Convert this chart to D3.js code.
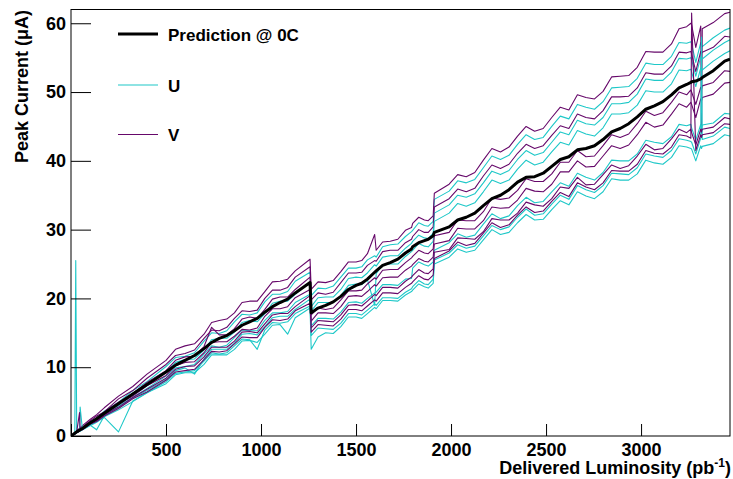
<!DOCTYPE html>
<html><head><meta charset="utf-8">
<script src="https://cdn.jsdelivr.net/npm/d3@7"></script>
<style>
body{margin:0;background:#fff}
text{font-family:"Liberation Sans",Arial,Helvetica,sans-serif;font-weight:bold;fill:#000}
</style>
</head><body>
<svg id="chart" width="733" height="479"></svg>
<script>
// ---- data ----
const lumi = [0,20,25,30,45,48,60,100,135,175,250,325,400,500,550,600,650,700,740,780,820,860,900,940,980,1020,1060,1100,1140,1180,1258,
  1264,1300,1340,1380,1420,1460,1500,1530,1560,1598,1606,1640,1680,1720,1760,1792,1798,1830,1860,1880,1906,
  1912,1990,2035,2080,2125,2170,2215,2260,2305,2350,2395,2440,2485,2530,2575,2620,2665,2710,2755,2800,2845,2890,2935,2980,3025,3070,3115,3160,3200,3240,3262,3266,3288,3314,3318,3322,3380,3440,3468];

const prediction = [0,0.4,0.5,0.6,0.85,0.9,1.1,1.9,2.5,3.3,4.7,6.1,7.5,9.3,10.3,11.0,11.7,12.7,13.6,14.2,14.6,15.3,16.1,16.6,17.1,18.0,18.8,19.4,19.9,20.8,22.3,
  17.9,18.6,19.0,19.5,20.3,21.3,21.9,22.2,22.8,23.8,24.0,24.8,25.2,25.7,26.6,27.2,27.5,28.1,28.4,28.6,29.1,
  29.6,30.4,31.4,31.8,32.4,33.5,34.5,35.0,35.8,36.9,37.6,37.7,38.2,39.2,40.2,40.6,41.6,41.8,42.2,43.1,44.2,44.7,45.4,46.4,47.5,48.0,48.6,49.6,50.6,51.1,51.4,51.5,51.6,51.9,52.0,52.1,53.1,54.5,54.8];

const U1 = [0,0.4,0.5,0.6,0.9,1.0,1.1,2.1,2.6,3.6,4.9,6.6,7.9,10.1,11.4,11.6,12.1,13.8,15.0,14.9,15.3,16.6,17.7,17.6,17.9,19.5,20.6,20.6,21.0,22.5,23.8,
  20.4,21.5,21.4,21.8,23.1,24.4,24.4,24.6,25.6,26.2,26.0,27.5,27.8,27.9,29.0,29.7,29.9,31.0,30.6,30.5,31.2,
  34.4,35.6,37.1,36.8,37.3,39.0,40.7,40.2,40.8,42.4,43.8,43.1,43.4,45.0,46.5,46.1,48.2,47.8,47.5,48.6,50.6,50.7,50.8,52.0,54.2,54.0,54.0,55.2,57.2,57.1,57.3,57.0,54.3,57.2,56.8,56.6,57.9,59.0,59.3];
const U2 = [0,0.4,25.5,0.7,0.8,0.9,1.2,1.8,2.6,3.2,4.8,6.0,7.6,9.2,10.7,11.1,11.2,12.5,14.0,14.2,14.2,15.1,16.5,16.8,16.6,17.8,19.3,19.6,19.6,20.6,22.4,
  18.8,20.1,20.2,20.2,21.3,22.9,23.1,23.0,23.7,24.9,24.7,26.0,26.2,26.2,27.3,28.0,28.3,29.2,28.8,28.7,29.5,
  32.4,33.6,35.0,34.7,35.2,36.8,38.5,38.0,38.6,40.2,41.5,40.8,41.2,42.7,44.2,43.8,45.9,45.4,45.2,46.3,48.3,48.3,48.5,49.7,51.9,51.7,51.7,52.9,54.9,54.8,55.0,54.7,52.3,55.1,54.9,54.8,56.1,57.2,57.6];
const U3 = [0,0.4,0.5,0.6,0.8,4.2,1.0,1.7,2.4,3.0,4.4,5.6,6.9,8.7,9.9,10.1,10.4,11.9,13.1,12.9,13.2,14.3,15.4,15.3,15.3,16.8,17.9,17.9,18.1,19.4,20.6,
  18.2,19.4,19.4,19.4,20.4,21.9,22.1,22.0,22.7,19.0,23.6,24.9,25.0,25.0,26.1,26.8,27.0,28.0,27.6,27.5,28.3,
  31.2,32.4,33.8,33.4,33.9,35.5,37.2,36.7,37.2,38.8,40.1,39.4,39.8,41.3,42.7,42.3,44.4,43.9,43.6,44.8,46.8,46.8,47.0,48.1,50.2,50.0,50.0,51.2,53.2,53.1,53.3,52.9,50.8,53.5,53.3,53.2,54.5,55.6,56.0];
const U4 = [0,0.3,0.4,0.5,0.7,0.8,1.0,1.6,0.9,2.9,4.1,5.5,6.6,8.2,9.5,9.9,9.0,11.2,12.6,12.6,12.6,13.5,14.8,14.9,14.7,15.9,17.2,17.4,17.4,18.4,19.9,
  16.0,17.1,17.1,17.0,18.0,19.4,19.5,19.3,20.0,20.8,20.9,22.0,22.0,21.9,22.8,22.9,24.4,25.3,24.9,24.7,25.3,
  27.0,28.1,29.4,28.9,29.2,30.8,32.3,31.6,32.0,33.5,34.7,33.9,34.1,35.5,36.8,36.3,38.2,37.6,37.2,38.3,40.1,40.0,40.0,41.0,43.0,42.7,42.5,43.5,45.3,45.1,45.3,44.8,43.0,45.3,44.8,45.2,45.5,46.9,46.8];
const U5 = [0,0.3,0.4,0.5,0.7,0.8,0.9,1.6,2.1,2.7,0.6,5.1,6.3,7.9,9.1,9.3,9.5,10.9,12.1,11.9,12.1,13.1,14.1,14.0,12.6,15.4,16.5,16.4,16.6,17.8,18.9,
  14.6,15.7,15.6,15.5,16.4,17.8,17.8,17.6,18.3,19.2,19.0,20.1,20.1,20.0,20.9,21.4,21.7,22.6,22.1,22.0,22.8,
  25.6,26.6,27.8,27.3,27.6,29.1,30.6,30.0,30.4,31.8,33.0,32.1,32.3,33.7,35.0,34.4,36.4,35.8,35.4,36.4,38.2,38.1,38.0,39.0,41.0,40.7,40.5,41.5,43.2,43.0,42.8,42.7,41.0,43.3,58.0,43.1,43.6,44.9,44.7];
const U6 = [0,0.3,0.4,0.5,0.7,0.7,0.9,1.5,2.0,2.8,3.8,5.0,6.3,7.6,8.9,9.2,9.2,10.4,11.8,11.8,11.8,12.6,13.8,13.9,13.6,14.8,16.1,16.2,14.8,17.2,18.6,
  12.6,14.4,15.0,14.9,15.9,17.3,17.3,17.1,17.8,18.7,18.5,19.7,19.7,19.6,20.5,21.0,21.2,22.1,21.7,21.5,22.2,
  25.0,26.0,27.2,26.7,27.0,28.5,30.0,29.3,29.6,31.0,32.2,31.4,31.5,32.9,34.2,33.6,35.5,34.9,34.5,35.5,37.4,37.2,37.2,38.1,40.1,39.7,39.5,40.5,42.2,42.0,41.8,41.7,40.0,42.2,41.8,42.1,42.5,43.8,43.6];

const V1 = [0,0.5,0.6,0.8,1.1,1.2,1.5,2.4,3.1,4.1,5.8,7.2,9.0,11.0,12.6,13.1,13.4,14.8,16.5,16.8,17.0,17.9,19.4,19.6,19.6,21.0,22.4,22.5,22.8,24.0,25.7,
  21.3,22.4,22.3,22.6,23.9,25.3,25.3,25.5,26.5,29.3,27.0,28.2,28.3,28.6,29.9,30.3,30.9,31.8,31.4,31.3,32.0,
  35.3,36.6,38.0,37.7,38.3,40.1,41.8,41.3,42.0,43.6,45.0,44.3,44.7,46.3,47.8,47.4,49.6,49.2,49.0,50.1,52.2,52.3,52.4,53.6,55.9,55.8,55.8,57.0,59.2,59.5,60.0,59.8,56.5,59.6,44.0,59.2,60.1,61.4,61.6];
const V2 = [0,0.4,0.5,0.7,1.0,1.0,1.3,2.2,2.9,3.5,5.4,6.6,8.4,10.4,11.7,12.0,12.5,14.2,15.4,15.3,15.8,17.1,18.2,18.1,18.3,20.0,21.2,21.2,21.6,23.1,24.6,
  19.8,20.8,20.6,20.9,22.3,23.7,23.7,23.8,24.8,25.5,25.4,26.8,27.0,27.0,28.1,28.6,29.0,30.0,29.6,29.6,30.4,
  33.3,34.5,35.9,35.5,36.0,37.8,39.4,38.9,39.5,41.1,42.4,41.8,42.2,43.7,45.1,44.7,46.8,46.3,46.1,47.3,49.3,49.3,49.4,50.6,52.8,52.6,52.6,53.8,55.8,55.7,55.9,55.5,53.0,55.9,55.6,55.8,56.5,58.1,58.0];
const V3 = [0,0.4,0.5,0.6,3.4,0.9,1.2,2.0,2.5,3.5,4.9,6.2,7.8,9.5,11.0,11.5,11.6,13.0,15.8,14.7,14.7,15.6,17.0,17.3,17.1,18.4,19.9,20.2,20.2,21.3,23.1,
  17.6,18.6,18.4,18.6,19.8,21.1,21.1,21.2,22.1,23.0,22.8,24.1,24.2,24.2,25.2,25.9,26.1,27.0,26.6,26.5,27.2,
  29.1,29.6,31.4,31.3,31.3,32.6,34.6,34.4,34.6,35.7,37.4,37.0,37.0,38.1,39.8,39.8,41.5,40.6,40.7,42.2,43.8,43.4,43.9,45.4,47.2,46.6,47.0,48.5,50.0,49.6,50.3,50.0,48.2,50.7,50.4,50.9,51.4,53.1,53.0];
const V4 = [0,0.4,0.5,0.6,0.8,0.9,1.0,1.9,2.3,3.2,4.6,5.8,7.3,8.8,10.2,10.7,10.8,12.1,13.6,13.7,13.7,14.5,15.5,15.4,15.7,17.4,18.5,18.5,18.8,20.1,21.3,
  16.7,17.9,17.9,17.8,18.8,20.3,20.4,20.3,21.0,22.0,21.8,23.0,23.1,23.1,24.1,24.7,24.9,25.8,25.4,25.3,26.0,
  27.9,28.4,30.2,30.1,30.1,31.3,33.3,33.1,33.2,34.3,36.0,35.6,35.5,36.6,38.4,38.4,40.0,39.1,39.2,40.7,42.2,41.8,42.3,43.8,45.6,44.9,45.2,46.8,48.3,47.8,48.5,48.2,46.3,49.0,48.7,49.2,49.7,51.3,51.4];
const V5 = [0,0.4,0.4,0.5,0.8,0.8,1.0,1.8,2.2,3.1,4.2,5.6,6.8,8.4,9.7,10.1,10.2,11.5,12.9,12.9,12.9,13.8,15.1,15.2,15.0,16.3,17.6,17.8,17.8,18.8,20.4,
  15.7,16.8,16.7,16.6,17.6,19.0,19.1,18.9,19.6,20.6,20.4,21.6,21.6,21.5,22.5,23.1,23.3,24.2,23.7,23.6,24.3,
  26.7,27.1,28.8,28.7,28.6,29.7,31.6,31.4,31.4,32.4,34.0,33.6,33.4,34.5,36.2,36.0,37.6,36.5,36.6,38.0,39.4,38.9,39.3,40.7,42.4,41.6,41.8,43.2,44.6,44.1,44.6,44.1,42.3,44.6,44.2,44.6,44.9,46.3,46.1];
const V6 = [0,0.3,0.4,0.5,0.7,0.8,0.9,1.7,2.1,2.9,4.0,5.4,6.4,8.1,9.3,9.5,9.7,11.1,12.3,12.2,12.4,13.4,14.4,14.3,14.3,15.8,16.9,16.8,17.0,18.2,19.3,
  15.1,16.2,16.1,16.0,17.0,18.4,18.4,18.2,18.9,19.8,19.6,20.8,20.8,20.7,21.6,22.2,22.4,23.3,22.8,22.7,23.4,
  25.8,26.9,28.2,27.7,28.0,29.5,31.0,30.3,30.7,32.1,33.3,32.5,32.7,34.1,35.4,34.8,36.8,36.2,35.8,36.8,38.6,38.5,38.5,39.5,41.5,41.1,41.0,42.0,43.8,43.6,43.3,61.5,41.5,43.8,43.4,43.8,44.1,45.4,45.3];

const xMajor = [0,500,1000,1500,2000,2500,3000];
const xMinor = d3.range(100, 3468, 100);
const yMajor = [0,10,20,30,40,50,60];
const yMinor = d3.range(2, 62, 2);
const xTitle = "Delivered Luminosity (pb";
const yTitle = "Peak Current (\u03bcA)";
const legendLabels = ["Prediction @ 0C", "U", "V"];

// ---- drawing ----
const svg = d3.select("#chart");
const L = 71, R = 730, T = 9.5, B = 436;
const x = d3.scaleLinear().domain([0, 3468]).range([L, R]);
const y = d3.scaleLinear().domain([0, 62]).range([B, T]);
const cyan = "#1ec8c8", purple = "#66086a";

svg.append("clipPath").attr("id","pa").append("rect")
  .attr("x", L).attr("y", T).attr("width", R-L).attr("height", B-T);

const line = vals => d3.line().defined((d,i)=>i<lumi.length).x((d,i)=>x(lumi[i])).y(d=>y(d))(vals);
const plot = svg.append("g").attr("clip-path","url(#pa)");
const series = [[U1,cyan],[V1,purple],[U2,cyan],[V2,purple],[U3,cyan],[V3,purple],
                [U4,cyan],[V4,purple],[U5,cyan],[V5,purple],[U6,cyan],[V6,purple]];
series.forEach(([vals,col]) => {
  if (vals.length !== lumi.length) console.error("length mismatch", vals.length, lumi.length);
  plot.append("path").attr("d", line(vals)).attr("fill","none")
    .attr("stroke", col).attr("stroke-width", 1.1).attr("stroke-linejoin","round");
});
if (prediction.length !== lumi.length) console.error("pred length mismatch", prediction.length);
plot.append("path").attr("d", line(prediction)).attr("fill","none")
  .attr("stroke","#000").attr("stroke-width",3).attr("stroke-linejoin","round");

// frame
svg.append("rect").attr("x",L).attr("y",T).attr("width",R-L).attr("height",B-T)
  .attr("fill","none").attr("stroke","#000").attr("stroke-width",1);

// x axis
const gx = svg.append("g").attr("transform",`translate(0,${B})`);
gx.call(d3.axisBottom(x).tickValues(xMinor).tickSize(-6).tickFormat(""));
gx.call(d3.axisBottom(x).tickValues(xMajor).tickSize(-12).tickPadding(7)
  .tickFormat(d => d === 0 ? "" : d));
gx.selectAll(".domain").remove();
gx.selectAll("text").style("font-size","18px").attr("font-family",null);
gx.selectAll("line").attr("stroke","#000");

// y axis
const gy = svg.append("g").attr("transform",`translate(${L},0)`);
gy.call(d3.axisLeft(y).tickValues(yMinor).tickSize(-10).tickFormat(""));
gy.call(d3.axisLeft(y).tickValues(yMajor).tickSize(-20).tickPadding(5));
gy.selectAll(".domain").remove();
gy.selectAll("text").style("font-size","18px").attr("font-family",null);
gy.selectAll("line").attr("stroke","#000");

// titles
const xt = svg.append("text").attr("x", 731).attr("y", 474).attr("text-anchor","end")
  .style("font-size","18px");
xt.append("tspan").text(xTitle);
xt.append("tspan").attr("dy",-7).style("font-size","12px").text("-1");
xt.append("tspan").attr("dy",7).text(")");

svg.append("text").attr("transform","translate(28,10) rotate(-90)")
  .attr("text-anchor","end").style("font-size","18px").text(yTitle);

// legend
const leg = [[legendLabels[0],"#000",3,34],[legendLabels[1],cyan,1.2,85],[legendLabels[2],purple,1.2,134.5]];
leg.forEach(([lab,col,w,ly]) => {
  svg.append("line").attr("x1",118).attr("x2",158).attr("y1",ly).attr("y2",ly)
    .attr("stroke",col).attr("stroke-width",w);
  svg.append("text").attr("x",168).attr("y",ly+6.5).style("font-size","17px").text(lab);
});
</script>
</body></html>
